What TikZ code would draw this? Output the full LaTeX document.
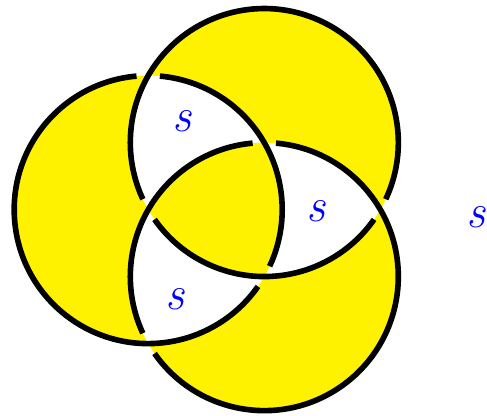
\documentclass[tikz,border=0pt]{standalone}
\usetikzlibrary{calc}
\tikzset{
  ring/.style={line width=4pt, line cap=butt},
  lbl/.style={text=blue, font=\fontsize{34}{40}\selectfont\itshape, inner sep=0pt}
}
\begin{document}
\begin{tikzpicture}[scale=1.0]
\useasboundingbox (0,0) rectangle (12.175,10.4);
\coordinate (O) at (5.64,5.16);
\coordinate (A) at ($(O)+(60:1.935)$);
\coordinate (B) at ($(O)+(180:1.935)$);
\coordinate (C) at ($(O)+(300:1.935)$);
% odd regions yellow, pairwise overlaps white
\fill[yellow, even odd rule] (A) circle (3.35) (B) circle (3.35) (C) circle (3.35);
% rings, broken where they pass under
\foreach \c/\t in {A/0,B/120,C/240}{
  \draw[ring] (\c) ++(215+\t:3.35) arc[start angle=215+\t, end angle=325+\t, radius=3.35];
  \draw[ring] (\c) ++(335+\t:3.35) arc[start angle=335+\t, end angle=565+\t, radius=3.35];
}
\node[lbl] (s1) at (4.55,7.36) {s};
\node[lbl] (s2) at (7.9,5.13) {s};
\node[lbl] (s3) at (4.375,2.925) {s};
\node[lbl] (s4) at (11.91,4.98) {s};
\end{tikzpicture}
\end{document}
